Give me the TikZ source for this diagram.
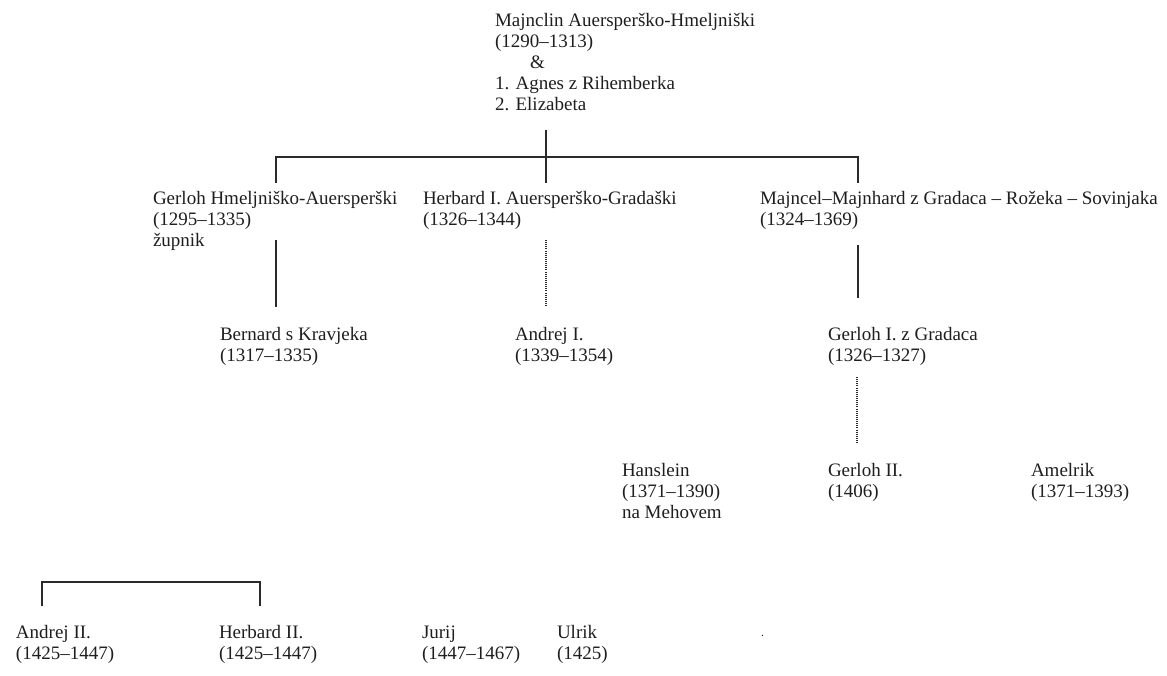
\documentclass[tikz,border=0pt]{standalone}
\usepackage{fontspec}
\setmainfont{Liberation Serif}
\definecolor{ink}{HTML}{2A2A2A}
\definecolor{txt}{HTML}{1E1E1E}
\newcommand\ppl[1]{\vtop{\baselineskip=21pt\lineskiplimit=-10pt\halign{##\hfil\cr#1\crcr}}}
\tikzset{
  person/.style={anchor=base west, inner sep=0pt, outer sep=0pt, text=txt, font=\fontsize{19}{21}\selectfont},
  link/.style={draw=ink, line width=1.6pt},
  dotlink/.style={draw=ink, line width=1.3pt, dash pattern=on 1pt off 1.1pt}
}
\begin{document}
\begin{tikzpicture}[x=1pt, y=-1pt]
\useasboundingbox (0,0) rectangle (1167,675);
% generation 1
\node[person] (top) at (495,26) {\ppl{Majnclin Auersperško-Hmeljniški\cr (1290–1313)\cr \hspace{35pt}\&\cr 1. Agnes z Rihemberka\cr 2. Elizabeta}};
% generation 2
\node[person] (gerloh) at (153,204) {\ppl{Gerloh Hmeljniško-Auersperški\cr (1295–1335)\cr župnik}};
\node[person] (herbard) at (423,204) {\ppl{Herbard I. Auersperško-Gradaški\cr (1326–1344)}};
\node[person] (majncel) at (760,204) {\ppl{Majncel–Majnhard z Gradaca – Rožeka – Sovinjaka\cr (1324–1369)}};
% generation 3
\node[person] (bernard) at (220,340) {\ppl{Bernard s Kravjeka\cr (1317–1335)}};
\node[person] (andrej1) at (515,340) {\ppl{Andrej I.\cr (1339–1354)}};
\node[person] (gerloh1) at (828,340) {\ppl{Gerloh I. z Gradaca\cr (1326–1327)}};
% generation 4
\node[person] (hanslein) at (622,476) {\ppl{Hanslein\cr (1371–1390)\cr na Mehovem}};
\node[person] (gerloh2) at (828,476) {\ppl{Gerloh II.\cr (1406)}};
\node[person] (amelrik) at (1031,476) {\ppl{Amelrik\cr (1371–1393)}};
% generation 5
\node[person] (andrej2) at (16,638) {\ppl{Andrej II.\cr (1425–1447)}};
\node[person] (herbard2) at (219,638) {\ppl{Herbard II.\cr (1425–1447)}};
\node[person] (jurij) at (422,638) {\ppl{Jurij\cr (1447–1467)}};
\node[person] (ulrik) at (557,638) {\ppl{Ulrik\cr (1425)}};
\node[person, font=\fontsize{12}{14}\selectfont] (dot) at (761,636) {.};
% junction coordinates
\coordinate (top-dn) at (546,130);
\coordinate (bar-mid) at (546,157);
\coordinate (gerloh-up) at (276,183);
\coordinate (herbard-up) at (546,183);
\coordinate (majncel-up) at (858,183);
\coordinate (gerloh-dn) at (276,240);
\coordinate (bernard-up) at (276,307);
\coordinate (herbard-dn) at (546,240);
\coordinate (andrej1-up) at (546,307);
\coordinate (majncel-dn) at (858,245);
\coordinate (gerloh1-up) at (858,298);
\coordinate (gerloh1-dn) at (857,377);
\coordinate (gerloh2-up) at (857,443);
\coordinate (andrej2-up) at (42,606);
\coordinate (herbard2-up) at (260,606);
% connectors
\draw[link] (top-dn) -- (herbard-up);
\draw[link] (gerloh-up) |- (bar-mid) -| (majncel-up);
\draw[link] (gerloh-dn) -- (bernard-up);
\draw[dotlink] (herbard-dn) -- (andrej1-up);
\draw[link] (majncel-dn) -- (gerloh1-up);
\draw[dotlink] (gerloh1-dn) -- (gerloh2-up);
\draw[link] (andrej2-up) -- ++(0,-24) -| (herbard2-up);
\end{tikzpicture}
\end{document}
